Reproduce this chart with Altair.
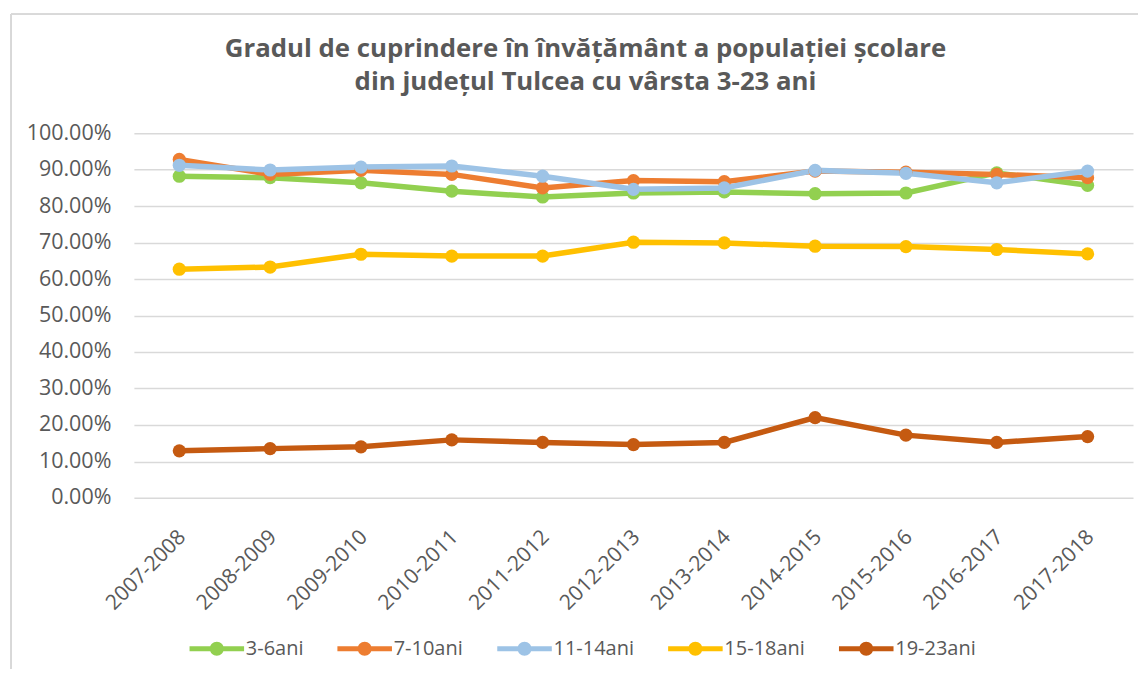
import altair as alt
import pandas as pd

years = ["2007-2008", "2008-2009", "2009-2010", "2010-2011", "2011-2012", "2012-2013",
         "2013-2014", "2014-2015", "2015-2016", "2016-2017", "2017-2018"]
series = ["3-6ani", "7-10ani", "11-14ani", "15-18ani", "19-23ani"]
colors = ["#92d050", "#ed7d31", "#9dc3e6", "#ffc000", "#c55a11"]

v_3_6 = [88.2, 87.8, 86.4, 84.1, 82.5, 83.6, 83.9, 83.4, 83.6, 89.1, 85.7]
v_7_10 = [92.8, 88.7, 89.8, 88.7, 85.0, 87.0, 86.7, 89.6, 89.3, 88.7, 87.8]
v_11_14 = [91.2, 89.9, 90.7, 91.0, 88.2, 84.6, 85.0, 89.8, 89.0, 86.4, 89.6]
v_15_18 = [62.7, 63.3, 66.8, 66.3, 66.3, 70.1, 69.9, 69.0, 68.9, 68.1, 66.9]
v_19_23 = [12.9, 13.5, 14.0, 15.9, 15.2, 14.6, 15.2, 22.0, 17.2, 15.2, 16.8]

values = [v_3_6, v_7_10, v_11_14, v_15_18, v_19_23]
rows = []
for si, (s, vals) in enumerate(zip(series, values)):
    for y, v in zip(years, vals):
        rows.append({"an": y, "serie": s, "ord": si, "val": v / 100.0})
df = pd.DataFrame(rows)

FONT = "Open Sans"
GRAY = "#595959"

x_enc = alt.X("an:N", sort=years, scale=alt.Scale(type="point", padding=0.5),
              axis=alt.Axis(title=None, labelAngle=-45, labelFontSize=21, labelFont=FONT,
                            labelColor=GRAY, domain=False, ticks=False, grid=False,
                            labelPadding=28, labelOffset=-5))
y_enc = alt.Y("val:Q", scale=alt.Scale(domain=[0, 1]),
              axis=alt.Axis(title=None, format=".2%", values=[i / 10 for i in range(11)],
                            labelFontSize=21.5, labelFont=FONT, labelColor=GRAY,
                            domain=False, ticks=False, gridColor="#d9d9d9", gridWidth=1.5,
                            labelPadding=23))
color_scale = alt.Scale(domain=series, range=colors)

sym = ("M-3.9,-0.36L3.9,-0.36L3.9,0.36L-3.9,0.36Z"
       "M-1,0A1,1,0,1,1,1,0A1,1,0,1,1,-1,0Z")

legend = alt.Legend(title=None, orient="none", direction="horizontal",
                    legendX=73, legendY=506,
                    symbolType=sym, symbolSize=196, symbolStrokeWidth=0,
                    labelFont=FONT, labelFontSize=20, labelColor=GRAY,
                    labelOffset=19, columnPadding=33)

lines = alt.Chart(df).mark_line(strokeWidth=5.5).encode(
    x=x_enc, y=y_enc,
    color=alt.Color("serie:N", scale=color_scale, legend=legend),
    order=alt.Order("ord:Q"),
    detail="serie:N",
)
points = alt.Chart(df).mark_circle(size=175, opacity=1).encode(
    x=x_enc, y=y_enc,
    color=alt.Color("serie:N", scale=color_scale, legend=legend),
)
frame_top = alt.Chart(df).mark_rule(color="#d9d9d9", strokeWidth=1.5).encode(
    x=alt.value(-123), x2=alt.value(1005), y=alt.value(-119))
frame_left = alt.Chart(df).mark_rule(color="#d9d9d9", strokeWidth=1.5).encode(
    x=alt.value(-123), y=alt.value(-119), y2=alt.value(536))

chart = alt.layer(frame_top, frame_left, lines, points).properties(
    width=1000, height=365,
    padding={"left": 2, "top": 5, "right": 0, "bottom": 0},
    title=alt.TitleParams(
        text=["Gradul de cuprindere în învățământ a populației școlare",
              "din județul Tulcea cu vârsta 3-23 ani"],
        font=FONT, fontSize=25.8, fontWeight="bold", color=GRAY,
        anchor="middle", frame="bounds", lineHeight=33, offset=-82, dx=11),
).configure_view(stroke=None)

chart.save("out.html", embed_options={"renderer": "svg", "actions": False})
